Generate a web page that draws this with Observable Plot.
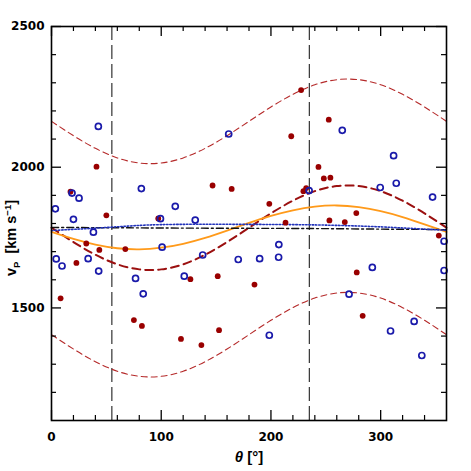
<!DOCTYPE html>
<html><head><meta charset="utf-8">
<script src="https://cdn.jsdelivr.net/npm/d3@7"></script>
<script src="https://cdn.jsdelivr.net/npm/@observablehq/plot@0.6"></script>
<style>html,body{margin:0;padding:0;background:#fff}#chart svg{display:block}</style>
</head><body><div id="chart"></div>
<script>
// ---- data ----
const thetaGrid  = [0,20,40,60,80,100,120,140,160,180,200,220,240,260,280,300,320,340,360];
const upperBand  = [2163,2112,2067,2033,2015,2015,2033,2067,2112,2163,2214,2259,2293,2311,2311,2293,2259,2214,2163];
const middleBand = [1785,1734,1689,1655,1637,1637,1655,1689,1734,1785,1836,1881,1915,1933,1933,1915,1881,1836,1785];
const lowerBand  = [1405,1354,1309,1275,1257,1257,1275,1309,1354,1405,1456,1501,1535,1553,1553,1535,1501,1456,1405];
const orangeFit  = [1770,1745,1725,1712,1708,1714,1728,1749,1775,1802,1827,1847,1860,1864,1858,1844,1823,1797,1770];

const flatTheta  = [0,55,100,170,240,300,340,360];
const blackFit   = [1786,1785,1784,1783,1782,1780,1779,1778];
const blueFit    = [1775,1787,1796,1797,1795,1788,1780,1776];

const boundaries = [55,235];

const redTheta = [8.3,17.3,22.7,31.7,41,43.6,50,67.3,75.1,82.4,97.3,118,126.6,136.6,146.8,151.5,152.7,164.2,185,198.5,213.3,218.5,227.5,229.6,232.1,243.3,248.2,252.7,253.3,254.2,267.3,277.8,278.2,283.6,353];
const redV     = [1534,1913,1660,1729,2002,1706,1829,1709,1457,1436,1818,1390,1602,1368,1935,1613,1421,1923,1583,1870,1803,2110,2274,1915,1926,2001,1960,2169,1811,1963,1805,1837,1626,1472,1757];

const blueTheta = [3.5,4.3,9.6,18.7,20,25.1,33.4,38.2,42.7,43,76.6,81.9,83.6,99.3,100.8,112.8,121,131,137.8,161.5,170.2,189.7,198.5,207,207.2,234.8,265,271.2,292.4,299.6,309,311.8,314.2,330.5,337.5,347.3,357.8,357.8];
const blueV     = [1852,1674,1649,1908,1815,1890,1675,1769,2145,1631,1605,1924,1550,1817,1716,1861,1613,1812,1688,2118,1672,1675,1403,1680,1725,1917,2131,1549,1644,1928,1418,2041,1943,1452,1331,1894,1737,1633];

const majorX = [0,100,200,300];
const minorX = [20,40,60,80,120,140,160,180,220,240,260,280,320,340];
const majorY = [1500,2000,2500];
const minorY = [1200,1300,1400,1600,1700,1800,1900,2100,2200,2300,2400];

// ---- layout ----
const W = 471, H = 471, mL = 51, mR = 25, mT = 26, mB = 51;
const pw = W - mL - mR, ph = H - mT - mB;

const curves = thetaGrid.map((t, i) => ({theta: t, upper: upperBand[i], middle: middleBand[i], lower: lowerBand[i], orange: orangeFit[i]}));
const flats = flatTheta.map((t, i) => ({theta: t, black: blackFit[i], blue: blueFit[i]}));
const reds = redTheta.map((t, i) => ({theta: t, v: redV[i]}));
const blues = blueTheta.map((t, i) => ({theta: t, v: blueV[i]}));

const svg = Plot.plot({
  width: W, height: H,
  marginLeft: mL, marginRight: mR, marginTop: mT, marginBottom: mB,
  style: {fontFamily: "'DejaVu Sans', sans-serif", fontWeight: "bold", fontSize: "12px", color: "#000", background: "#fff"},
  x: {domain: [0, 360]},
  y: {domain: [1100, 2500]},
  marks: [
    Plot.ruleX(boundaries, {x: d => d, stroke: "#333", strokeWidth: 1.2, strokeDasharray: "14,5"}),
    Plot.line(curves, {x: "theta", y: "upper", curve: "natural", stroke: "#b52a2a", strokeWidth: 1.1, strokeDasharray: "6,4"}),
    Plot.line(curves, {x: "theta", y: "lower", curve: "natural", stroke: "#b52a2a", strokeWidth: 1.1, strokeDasharray: "6,4"}),
    Plot.line(curves, {x: "theta", y: "middle", curve: "natural", stroke: "#9b1010", strokeWidth: 2, strokeDasharray: "8,5"}),
    Plot.line(curves, {x: "theta", y: "orange", curve: "natural", stroke: "#ff9a1a", strokeWidth: 1.8}),
    Plot.line(flats, {x: "theta", y: "black", curve: "natural", stroke: "#111", strokeWidth: 1.4, strokeDasharray: "7,3,2,3"}),
    Plot.line(flats, {x: "theta", y: "blue", curve: "natural", stroke: "#2233bb", strokeWidth: 1.6, strokeDasharray: "1.5,1.8"}),
    Plot.dot(reds, {x: "theta", y: "v", r: 2.9, fill: "#990000", stroke: "none"}),
    Plot.dot(blues, {x: "theta", y: "v", r: 3, fill: "none", stroke: "#1a1aaa", strokeWidth: 1.7}),
    // inward ticks, all four sides
    Plot.tickX(majorX, {x: d => d, insetTop: ph - 10, stroke: "#000", strokeWidth: 1.3}),
    Plot.tickX(majorX, {x: d => d, insetBottom: ph - 10, stroke: "#000", strokeWidth: 1.3}),
    Plot.tickX(minorX, {x: d => d, insetTop: ph - 5, stroke: "#000", strokeWidth: 1.2}),
    Plot.tickX(minorX, {x: d => d, insetBottom: ph - 5, stroke: "#000", strokeWidth: 1.2}),
    Plot.tickY(majorY, {y: d => d, insetRight: pw - 10, stroke: "#000", strokeWidth: 1.3}),
    Plot.tickY(majorY, {y: d => d, insetLeft: pw - 10, stroke: "#000", strokeWidth: 1.3}),
    Plot.tickY(minorY, {y: d => d, insetRight: pw - 5, stroke: "#000", strokeWidth: 1.2}),
    Plot.tickY(minorY, {y: d => d, insetLeft: pw - 5, stroke: "#000", strokeWidth: 1.2}),
    Plot.axisX(majorX, {tickSize: 0, tickPadding: 12, label: null, tickFormat: d => String(d)}),
    Plot.axisY(majorY, {tickSize: 0, tickPadding: 7, label: null, tickFormat: d => String(d)}),
    Plot.frame({stroke: "#000", strokeWidth: 1.6})
  ]
});

// axis titles
const s = d3.select(svg);
const xl = s.append("text")
  .attr("x", 249).attr("y", 461.5).attr("text-anchor", "middle")
  .attr("font-family", "'Liberation Sans', Arial, sans-serif").attr("font-weight", "bold")
  .attr("font-size", 15).attr("fill", "#000");
xl.append("tspan").attr("font-style", "italic").text("θ");
xl.append("tspan").text(" [°]");

const yl = s.append("text")
  .attr("transform", "translate(16,238) rotate(-90)")
  .attr("text-anchor", "middle")
  .attr("font-family", "'Liberation Sans', Arial, sans-serif").attr("font-weight", "bold")
  .attr("font-size", 14.5).attr("fill", "#000");
yl.append("tspan").text("v");
yl.append("tspan").attr("font-size", 9.5).attr("dy", 3.5).text("P");
yl.append("tspan").attr("dy", -3.5).text("\u00a0\u00a0[km s");
yl.append("tspan").attr("font-size", 9.5).attr("dy", -5).text("−1");
yl.append("tspan").attr("dy", 5).text("]");

document.getElementById("chart").appendChild(svg);
</script>
</body></html>
